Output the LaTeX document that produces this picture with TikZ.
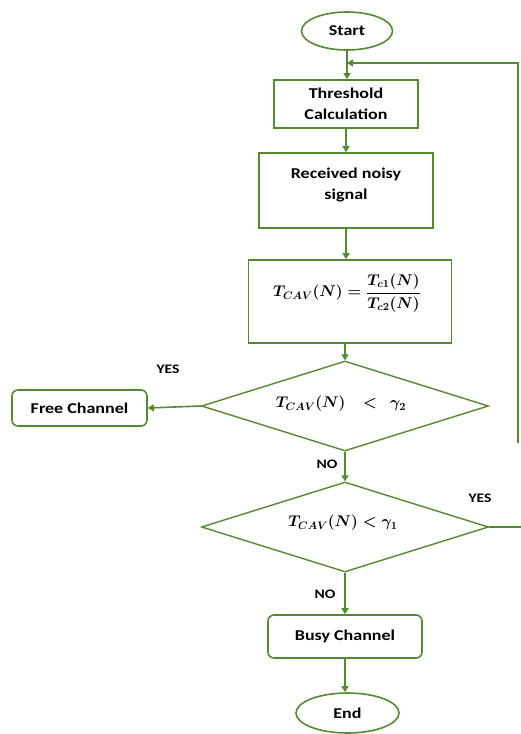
\RequirePackage{fix-cm}
\documentclass[tikz,border=0pt]{standalone}
\usepackage{fontspec}
\setmainfont{Carlito}[FakeStretch=1.2]
\usetikzlibrary{shapes.geometric,arrows.meta}
\definecolor{fg}{RGB}{84,138,48}
\tikzset{
  box/.style={draw=fg,line width=1.6pt,fill=white,rectangle,inner sep=0pt,align=center,
    font=\fontsize{15}{21}\selectfont\bfseries},
  rbox/.style={box,rounded corners=6pt},
  oval/.style={draw=fg,line width=1.6pt,ellipse,inner sep=0pt,
    font=\fontsize{15}{18}\selectfont\bfseries},
  dia/.style={draw=fg,line width=1.4pt,diamond,inner sep=0pt,minimum width=287pt,minimum height=90pt},
  mtext/.style={inner sep=0pt,font=\fontsize{15.5}{18}\selectfont\mathversion{bold}},
  lab/.style={inner sep=0pt,font=\fontsize{13}{15}\selectfont\bfseries},
  conn/.style={draw=fg,line width=1.6pt},
  arr/.style={conn,-{Triangle[length=6pt,width=7pt]}}
}
\begin{document}
\begin{tikzpicture}[x=1pt,y=-1pt]
\useasboundingbox (0,0) rectangle (521,734);
\node[oval,minimum width=91pt,minimum height=38pt] (start) at (347,31) {Start};
\node[box,minimum width=144pt,minimum height=48pt] (thr) at (346,104) {Threshold\\Calculation};
\node[box,minimum width=174pt,minimum height=75pt] (rec) at (346,190.5) {Received noisy\\signal\\[-8pt]};
\node[box,minimum width=203pt,minimum height=83pt] (frm) at (350,301.5) {};
\node[mtext] (frmt) at (347,293) {$\displaystyle T_{CAV}(N)=\frac{T_{c1}(N)}{T_{c2}(N)}$};
\node[dia] (d1) at (345,406) {};
\node[mtext] (d1t) at (341,404) {$T_{CAV}(N)\ \ \ <\ \ \gamma_2$};
\node[rbox,minimum width=135pt,minimum height=36pt] (free) at (79.5,408) {Free Channel};
\node[dia] (d2) at (345,527) {};
\node[mtext] (d2t) at (343,523) {$T_{CAV}(N)<\gamma_1$};
\node[rbox,minimum width=154pt,minimum height=43pt] (busy) at (345,636.5) {Busy Channel};
\node[oval,minimum width=103pt,minimum height=40pt] (end) at (347.5,713) {End};
\node[lab] (y1) at (168,369) {YES};
\node[lab] (n1) at (327,464) {NO};
\node[lab] (y2) at (480,498) {YES};
\node[lab] (n2) at (325,594) {NO};
\coordinate (fbR) at (518,443);
\coordinate (fbT) at (518,63);
\coordinate (j) at (347,63);
\coordinate (d2R) at (522,527);
\draw[arr] (start.south) -- (start.south |- thr.north);
\draw[arr] (fbR) -- (fbT) -- (j);
\draw[arr] (thr.south) -- (thr.south |- rec.north);
\draw[arr] (rec.south) -- (rec.south |- frm.north);
\draw[arr] (frm.south -| d1.north) -- (d1.north);
\draw[arr] (d1.west) -- (free.east);
\draw[arr] (d1.south) -- (d2.north);
\draw[conn] (d2.east) -- (d2R);
\draw[arr] (d2.south) -- (busy.north -| d2.south);
\draw[arr] (busy.south) -- (end.north -| busy.south);
\end{tikzpicture}
\end{document}
